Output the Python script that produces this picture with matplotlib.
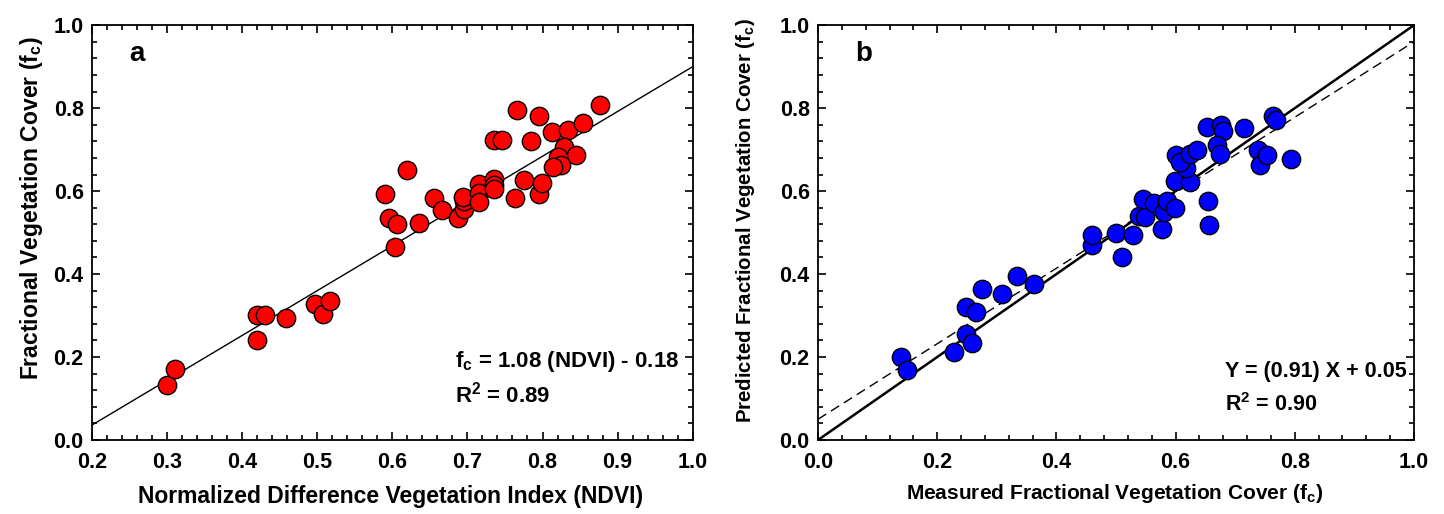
import numpy as np
import matplotlib
matplotlib.use("Agg")
from matplotlib import pyplot as plt
from matplotlib.ticker import MultipleLocator, FormatStrFormatter

# panel a: NDVI vs measured fc
ndvi = [0.300, 0.310, 0.420, 0.430, 0.420, 0.458, 0.497, 0.507, 0.517,
        0.590, 0.619, 0.596, 0.606, 0.604, 0.636, 0.656, 0.666, 0.688,
        0.695, 0.695, 0.694, 0.715, 0.715, 0.715, 0.735, 0.735, 0.735,
        0.735, 0.746, 0.766, 0.795, 0.764, 0.775, 0.785, 0.795, 0.799,
        0.813, 0.834, 0.854, 0.876, 0.829, 0.844, 0.820, 0.825, 0.814]
fc_a = [0.133, 0.172, 0.302, 0.302, 0.242, 0.294, 0.328, 0.304, 0.336,
        0.592, 0.650, 0.536, 0.520, 0.466, 0.524, 0.584, 0.554, 0.534,
        0.556, 0.576, 0.586, 0.618, 0.596, 0.573, 0.630, 0.615, 0.606,
        0.722, 0.722, 0.796, 0.780, 0.584, 0.626, 0.720, 0.592, 0.620,
        0.743, 0.747, 0.764, 0.808, 0.706, 0.687, 0.682, 0.664, 0.658]

# panel b: measured vs predicted fc
fc_meas = [0.139, 0.150, 0.229, 0.249, 0.259, 0.249, 0.265, 0.275, 0.309,
           0.334, 0.362, 0.459, 0.460, 0.510, 0.500, 0.528, 0.578, 0.538,
           0.548, 0.546, 0.564, 0.580, 0.585, 0.599, 0.599, 0.624, 0.600,
           0.618, 0.608, 0.624, 0.636, 0.654, 0.656, 0.653, 0.676, 0.679,
           0.670, 0.675, 0.714, 0.739, 0.741, 0.754, 0.794, 0.763, 0.768]
fc_pred = [0.201, 0.169, 0.212, 0.256, 0.233, 0.320, 0.308, 0.363, 0.352,
           0.396, 0.375, 0.470, 0.495, 0.440, 0.500, 0.495, 0.508, 0.540,
           0.538, 0.580, 0.572, 0.550, 0.577, 0.560, 0.625, 0.622, 0.688,
           0.655, 0.670, 0.690, 0.700, 0.575, 0.518, 0.755, 0.760, 0.745,
           0.712, 0.690, 0.753, 0.700, 0.664, 0.688, 0.678, 0.782, 0.772]

slope_a, icpt_a = 1.08, -0.18
slope_b, icpt_b = 0.91, 0.05

plt.rcParams['font.family'] = ['Liberation Sans', 'DejaVu Sans']
plt.rcParams['font.weight'] = 'bold'
plt.rcParams['mathtext.fontset'] = 'custom'
plt.rcParams['mathtext.rm'] = 'Liberation Sans:bold'
plt.rcParams['mathtext.it'] = 'Liberation Sans:bold'
plt.rcParams['mathtext.bf'] = 'Liberation Sans:bold'

fig = plt.figure(figsize=(14.44, 5.14), dpi=100)
ax1 = fig.add_axes([0.0637, 0.144, 0.416, 0.807])
ax2 = fig.add_axes([0.5665, 0.144, 0.4127, 0.807])


def style(ax, xmin, xmajor, xminor):
    ax.set_xlim(xmin, 1.0)
    ax.set_ylim(0, 1.0)
    ax.xaxis.set_major_locator(MultipleLocator(xmajor))
    ax.xaxis.set_minor_locator(MultipleLocator(xminor))
    ax.yaxis.set_major_locator(MultipleLocator(0.2))
    ax.yaxis.set_minor_locator(MultipleLocator(0.04))
    ax.tick_params(which='both', direction='in', top=True, right=True,
                   width=1.2, labelsize=15.5)
    ax.tick_params(which='major', length=6, pad=6)
    ax.tick_params(axis='x', which='major', pad=9)
    ax.tick_params(which='minor', length=3.5)
    ax.xaxis.set_major_formatter(FormatStrFormatter('%.1f'))
    ax.yaxis.set_major_formatter(FormatStrFormatter('%.1f'))
    for s in ax.spines.values():
        s.set_linewidth(1.3)


style(ax1, 0.2, 0.1, 0.02)
style(ax2, 0.0, 0.2, 0.04)

# panel a
xl = np.array([0.2, 1.0])
ax1.plot(xl, slope_a * xl + icpt_a, color='black', lw=1.0, zorder=2)
ax1.scatter(ndvi, fc_a, s=175, c='#ff0000', edgecolors='black',
            linewidths=1.0, zorder=3)
ax1.text(0.25, 0.93, 'a', fontsize=20, fontweight='bold', va='center')
ax1.text(0.683, 0.19, r'f$_\mathregular{c}$ = 1.08 (NDVI) - 0.18',
         fontsize=16, fontweight='bold', va='center')
ax1.text(0.683, 0.11, r'R$^\mathregular{2}$ = 0.89',
         fontsize=16, fontweight='bold', va='center')
ax1.set_xlabel('Normalized Difference Vegetation Index (NDVI)',
               fontsize=16.5, fontweight='bold', va='center')
ax1.xaxis.set_label_coords(0.4975, -0.137)
ax1.set_ylabel(r'Fractional Vegetation Cover (f$_\mathregular{c}$)',
               fontsize=16.5, fontweight='bold', va='center')
ax1.yaxis.set_label_coords(-0.100, 0.559)

# panel b
xl = np.array([0.0, 1.0])
ax2.plot(xl, xl, color='black', lw=1.8, zorder=2)
ax2.plot(xl, slope_b * xl + icpt_b, color='black', lw=1.0,
         dashes=(7, 4), zorder=2)
ax2.scatter(fc_meas, fc_pred, s=175, c='#0000ff', edgecolors='black',
            linewidths=1.0, zorder=3)
ax2.text(0.062, 0.93, 'b', fontsize=20, fontweight='bold', va='center')
ax2.text(0.683, 0.165, 'Y = (0.91) X + 0.05',
         fontsize=15.5, fontweight='bold', va='center')
ax2.text(0.683, 0.085, r'R$^\mathregular{2}$ = 0.90',
         fontsize=15.5, fontweight='bold', va='center')
ax2.set_xlabel(r'Measured Fractional Vegetation Cover (f$_\mathregular{c}$)',
               fontsize=15, fontweight='bold', va='center')
ax2.xaxis.set_label_coords(0.498, -0.130)
ax2.set_ylabel(r'Predicted Fractional Vegetation Cover (f$_\mathregular{c}$)',
               fontsize=14.7, fontweight='bold', va='center')
ax2.yaxis.set_label_coords(-0.1225, 0.530)

fig.savefig('out.png', dpi=100)
